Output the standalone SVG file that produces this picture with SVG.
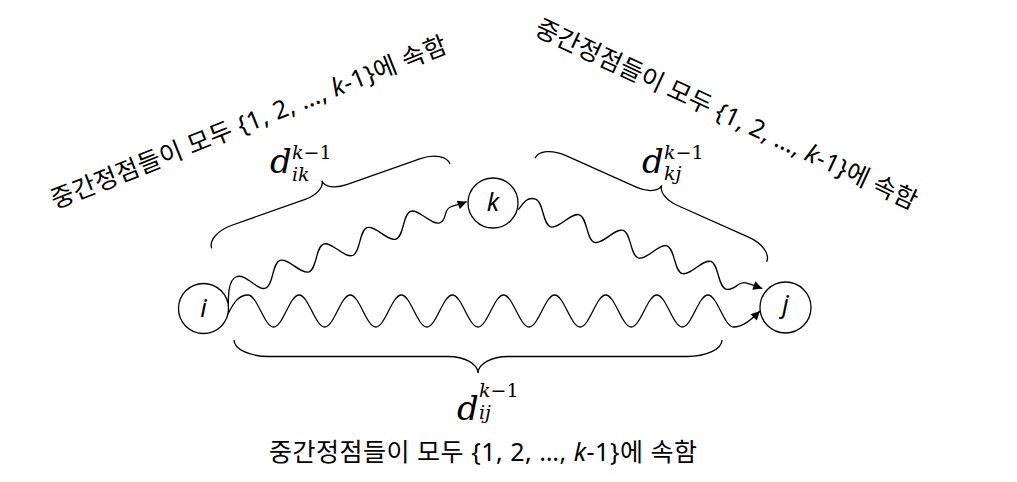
<svg xmlns="http://www.w3.org/2000/svg" width="1017" height="482" viewBox="0 0 1017 482">
<style>
.node{fill:#fff;stroke:#000;stroke-width:1.3}
.wave{fill:none;stroke:#000;stroke-width:1.3;marker-end:url(#ah)}
.brace{fill:none;stroke:#000;stroke-width:1.3}
.nl{font-family:"Noto Sans","Liberation Sans",sans-serif;font-style:italic;font-size:25px;text-anchor:middle;fill:#000}
.kt{font-family:"Noto Sans","Noto Sans CJK KR",sans-serif;font-size:25px;fill:#000}
.md{font-family:"DejaVu Serif",serif;font-style:italic;font-size:34px;fill:#000}
.ms{font-family:"DejaVu Serif",serif;font-style:italic;font-size:19px;fill:#000}
.up{font-style:normal}
</style>
<defs>
<marker id="ah" viewBox="0 0 10 10" refX="10" refY="5" markerWidth="10" markerHeight="9" markerUnits="userSpaceOnUse" orient="auto"><path d="M0,0 L10,5 L0,10 z" fill="#000"/></marker>
</defs>
<rect width="1017" height="482" fill="#fff"/>
<g id="connectors">
<path id="wave-ij" class="wave" d="M228.5,313 C234,302 239,295 248,295 C257.29,295 264.26,327 273.55,327 S289.81,295 299.1,295 S315.36,327 324.65,327 S340.91,295 350.2,295 S366.46,327 375.75,327 S392.01,295 401.3,295 S417.56,327 426.85,327 S443.11,295 452.4,295 S468.66,327 477.95,327 S494.21,295 503.5,295 S519.76,327 529.05,327 S545.31,295 554.6,295 S570.86,327 580.15,327 S596.41,295 605.7,295 S621.96,327 631.25,327 S647.51,295 656.8,295 S673.06,327 682.35,327 S698.61,295 707.9,295 S724.16,327 733.45,327 C742.74,327 751,320 760,311"/>
<path id="wave-ik" class="wave" transform="translate(218.34,294.75) rotate(-20.6)" d="M2.8,21 C7,10 13,-10.5 23.25,-10.5 S38.05,10.5 46.5,10.5 S61.3,-10.5 69.75,-10.5 S84.55,10.5 93,10.5 S107.8,-10.5 116.25,-10.5 S131.05,10.5 139.5,10.5 S154.3,-10.5 162.75,-10.5 S177.55,10.5 186,10.5 S200.8,-10.5 209.25,-10.5 S224.05,10.5 232.5,10.5 C240.95,10.5 240,0 248,-0.5 C254,-0.8 260,0.3 265.2,0.3"/>
<path id="wave-kj" class="wave" transform="translate(532.08,209.12) rotate(19.55)" d="M-12.7,5 C-10,-4 -8.45,-10.5 0,-10.5 S14.8,10.5 23.25,10.5 S38.05,-10.5 46.5,-10.5 S61.3,10.5 69.75,10.5 S84.55,-10.5 93,-10.5 S107.8,10.5 116.25,10.5 S131.05,-10.5 139.5,-10.5 S154.3,10.5 162.75,10.5 S177.55,-10.5 186,-10.5 S200.8,10.5 209.25,10.5 C217.7,10.5 218,-1 226,-2 C232,-2.5 238,-2.2 243.5,-2.2"/>
</g>
<g id="node-i"><circle class="node" cx="203.5" cy="308.5" r="25"/><text class="nl" x="203.5" y="317">i</text></g>
<g id="node-k"><circle class="node" cx="493" cy="203" r="25"/><text class="nl" x="493" y="211">k</text></g>
<g id="node-j"><circle class="node" cx="785.5" cy="307.5" r="25.5"/><text class="nl" x="785.5" y="313">j</text></g>
<g id="brace-ik">
<path class="brace" transform="translate(211.7,248.3) rotate(-19.48)" d="M0,0 C0,-8.28 11.64,-15 26,-15 L104.4,-15 C116.55,-15 126.4,-20.37 126.4,-27 C126.4,-20.37 136.25,-15 148.4,-15 L226.8,-15 C241.16,-15 252.8,-8.28 252.8,0"/>
<text class="md" x="270" y="173">d</text>
<text class="ms" x="292" y="159">k<tspan class="up">−1</tspan></text>
<text class="ms" x="292" y="181">ik</text>
<text class="kt" transform="translate(55,209) rotate(-21.77)" x="0" y="0" textLength="424" lengthAdjust="spacing">중간정점들이 모두 {1, 2, …, <tspan font-style="italic">k</tspan>-1}에 속함</text>
</g>
<g id="brace-kj">
<path class="brace" transform="translate(535,158.3) rotate(24.05)" d="M0,0 C0,-8.28 11.64,-15 26,-15 L104.85,-15 C117,-15 126.85,-20.37 126.85,-27 C126.85,-20.37 136.7,-15 148.85,-15 L227.7,-15 C242.06,-15 253.7,-8.28 253.7,0"/>
<text class="md" x="642" y="173">d</text>
<text class="ms" x="664" y="159">k<tspan class="up">−1</tspan></text>
<text class="ms" x="664" y="180">kj</text>
<text class="kt" transform="translate(533.3,34.2) rotate(24.9)" x="0" y="0" textLength="418" lengthAdjust="spacing">중간정점들이 모두 {1, 2, …, <tspan font-style="italic">k</tspan>-1}에 속함</text>
</g>
<g id="brace-ij">
<path class="brace" transform="translate(722,340) rotate(180)" d="M0,0 C0,-9.11 15.67,-16.5 35,-16.5 L214,-16.5 C230.57,-16.5 244,-23.89 244,-33 C244,-23.89 257.43,-16.5 274,-16.5 L453,-16.5 C472.33,-16.5 488,-9.11 488,0"/>
<text class="md" x="457" y="420">d</text>
<text class="ms" x="479" y="397">k<tspan class="up">−1</tspan></text>
<text class="ms" x="479" y="419">ij</text>
<text class="kt" x="269" y="461" textLength="428" lengthAdjust="spacing">중간정점들이 모두 {1, 2, …, <tspan font-style="italic">k</tspan>-1}에 속함</text>
</g>
</svg>
